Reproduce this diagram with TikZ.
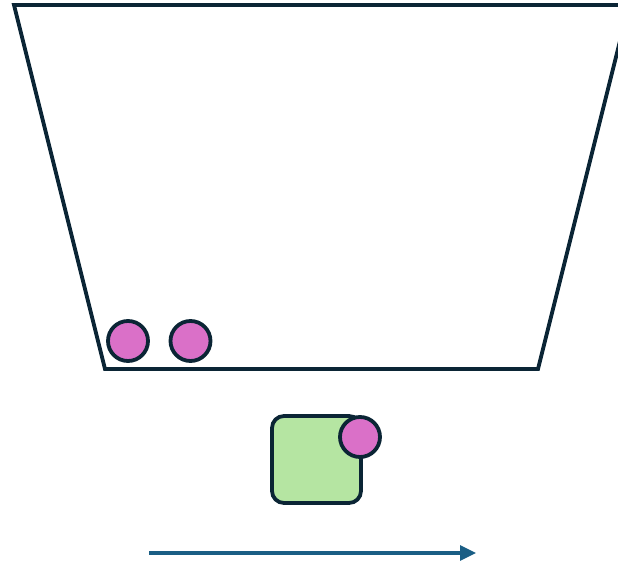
\documentclass[tikz,border=0pt]{standalone}
\usetikzlibrary{arrows.meta}
\definecolor{ink}{HTML}{0B2535}
\definecolor{pinkball}{HTML}{DA70C8}
\definecolor{greenbox}{HTML}{B5E5A2}
\definecolor{arrowblue}{HTML}{1A5E85}
\begin{document}
\begin{tikzpicture}[x=1pt,y=-1pt,
  outline/.style={draw=ink,line width=3.8pt},
  ball/.style={outline,fill=pinkball,circle,minimum size=40pt,inner sep=0pt}]
\useasboundingbox (0,0) rectangle (618,564);
\clip (0,0) rectangle (618,564);
\draw[outline,line join=miter] (14,5) -- (629,5) -- (538,369) -- (105,369) -- cycle;
\node[ball] (b1) at (128,341) {};
\node[ball] (b2) at (190.5,341) {};
\draw[outline,fill=greenbox,rounded corners=12pt] (272,416) rectangle (361,503);
\node[ball] (b3) at (360,437) {};
\coordinate (s) at (149,553);
\coordinate (e) at (476,553);
\draw[arrowblue,line width=3.2pt,-{Triangle[length=16pt,width=15pt]}] (s) -- (e);
\end{tikzpicture}
\end{document}
